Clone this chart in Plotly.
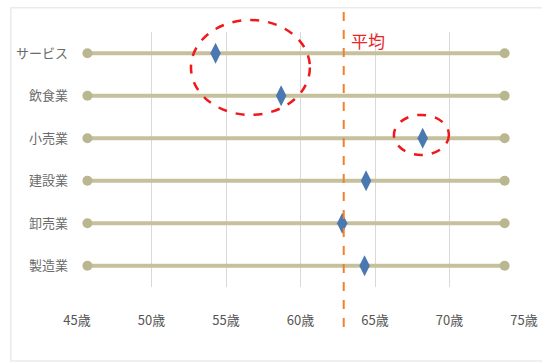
import plotly.graph_objects as go

# Data
categories = ["サービス", "飲食業", "小売業", "建設業", "卸売業", "製造業"]
values = [54.3, 58.7, 68.2, 64.4, 62.8, 64.3]
range_low = [45.7, 45.7, 45.7, 45.7, 45.7, 45.7]
range_high = [73.7, 73.7, 73.7, 73.7, 73.7, 73.7]
average = 62.9
tick_vals = [45, 50, 55, 60, 65, 70, 75]
tick_text = ["45歳", "50歳", "55歳", "60歳", "65歳", "70歳", "75歳"]
avg_label = "平均"

LINE_COL = "#C6C09C"
DOT_COL = "#BAB690"
DIAMOND_COL = "#4A78B0"
FONT = "Noto Sans CJK JP"

fig = go.Figure()

lx, ly = [], []
for c, lo, hi in zip(categories, range_low, range_high):
    lx += [lo, hi, None]
    ly += [c, c, None]
fig.add_trace(go.Scatter(
    x=lx, y=ly, mode="lines+markers",
    line=dict(color=LINE_COL, width=4),
    marker=dict(symbol="circle", size=10, color=DOT_COL),
    hoverinfo="skip", showlegend=False, cliponaxis=False,
))
fig.add_trace(go.Scatter(
    x=values, y=categories, mode="markers",
    marker=dict(symbol="diamond-tall", size=15, color=DIAMOND_COL,
                line=dict(width=0)),
    showlegend=False, cliponaxis=False,
))

# average dashed line
fig.add_shape(type="line", xref="x", yref="paper",
              x0=average, x1=average, y0=-0.157, y1=1.098,
              line=dict(color="#F07F2E", width=2, dash="dash"))
fig.add_annotation(x=average, y=0.965, xref="x", yref="paper",
                   text=avg_label, showarrow=False, xanchor="left",
                   yanchor="middle", xshift=5,
                   font=dict(family=FONT, size=17, color="#E8262A"))

# highlight ellipses (red dashed), in paper coordinates so they are not clipped
fig.add_shape(type="circle", xref="paper", yref="paper",
              x0=0.255, x1=0.521, y0=0.675, y1=1.047,
              line=dict(color="#F01818", width=2.5, dash="dash"))
fig.add_shape(type="circle", xref="paper", yref="paper",
              x0=0.709, x1=0.832, y0=0.518, y1=0.675,
              line=dict(color="#F01818", width=2.5, dash="dash"))

# faint outer frame
fig.add_shape(type="rect", xref="paper", yref="paper",
              x0=-0.148, x1=1.06, y0=-0.29, y1=1.095,
              line=dict(color="#EBEBEB", width=1.5), layer="below")

fig.update_layout(
    width=542, height=363,
    margin=dict(l=77, r=18, t=32, b=76, autoexpand=False),
    paper_bgcolor="white", plot_bgcolor="white",
    font=dict(family=FONT, size=13, color="#606060"),
    xaxis=dict(range=[45, 75], autorange=False,
               tickvals=tick_vals, ticktext=tick_text,
               showgrid=True, gridcolor="#D9D9D9", gridwidth=1,
               zeroline=False, showline=False, ticks="",
               automargin=False,
               ticklabelstandoff=24,
               tickfont=dict(size=13, color="#555555")),
    yaxis=dict(type="category", categoryorder="array",
               categoryarray=categories, autorange=False,
               range=[5.5, -0.5], automargin=False,
               showgrid=False, zeroline=False, showline=False, ticks="",
               ticklabelstandoff=8,
               tickfont=dict(size=13, color="#6A6A6A")),
)

fig.write_html("out.html")
